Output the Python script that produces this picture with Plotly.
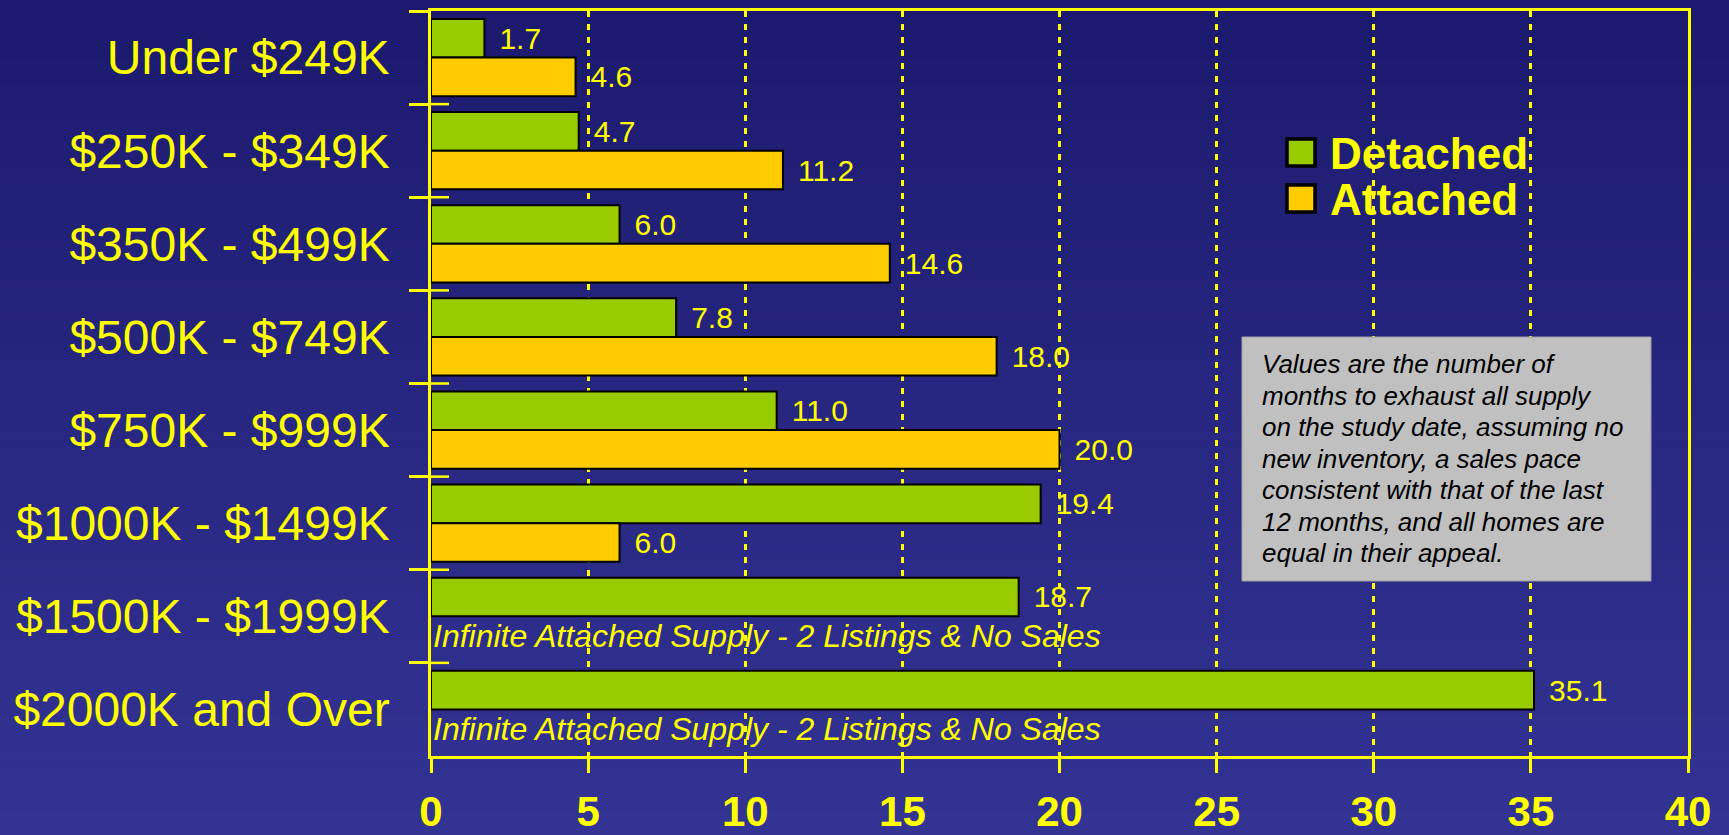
import plotly.graph_objects as go

# ---------------- data ----------------
categories = ["Under $249K", "$250K - $349K", "$350K - $499K", "$500K - $749K",
              "$750K - $999K", "$1000K - $1499K", "$1500K - $1999K", "$2000K and Over"]
detached = [1.7, 4.7, 6.0, 7.8, 11.0, 19.4, 18.7, 35.1]
attached = [4.6, 11.2, 14.6, 18.0, 20.0, 6.0, None, None]
x_ticks = [0, 5, 10, 15, 20, 25, 30, 35, 40]
series_names = ["Detached", "Attached"]
no_attached_note = "Infinite Attached Supply - 2 Listings & No Sales"
note_lines = ["Values are the number of",
              "months to exhaust all supply",
              "on the study date, assuming no",
              "new inventory, a sales pace",
              "consistent with that of the last",
              "12 months, and all homes are",
              "equal in their appeal."]

# ---------------- style ----------------
W, H = 1729, 835
L, R, T, B = 431, 41, 11, 79
PW, PH = W - L - R, H - T - B
YELLOW = "#FFFF00"
GREEN = "#99CC00"
GOLD = "#FFCC00"
FONT = "Liberation Sans, Arial, sans-serif"
BARGAP = 0.17


def px_x(px):
    return (px - L) / PW


def px_y(py):
    return 1 - (py - T) / PH


fig = go.Figure()
colors = [GREEN, GOLD]
for name, vals, col in zip(series_names, [detached, attached], colors):
    fig.add_trace(go.Bar(
        y=categories, x=vals, orientation="h", name=name,
        marker=dict(color=col, line=dict(color="black", width=2)),
        texttemplate="\u2009\u2009%{x:.1f}", textposition="outside",
        textfont=dict(family=FONT, size=30, color=YELLOW),
        constraintext="none", cliponaxis=False, showlegend=False,
        hoverinfo="x+y",
    ))

shapes = []
# background gradient
N = 70
top_c = (28, 26, 110)
bot_c = (51, 51, 148)
for k in range(N):
    t = k / (N - 1)
    c = tuple(round(top_c[j] + (bot_c[j] - top_c[j]) * t) for j in range(3))
    shapes.append(dict(type="rect", xref="paper", yref="paper", layer="below",
                       x0=px_x(0), x1=px_x(W),
                       y0=px_y(k * H / N), y1=px_y((k + 1) * H / N + 1),
                       fillcolor="rgb(%d,%d,%d)" % c, line=dict(width=0)))
# inner half of category boundary ticks
for i in range(1, len(categories)):
    shapes.append(dict(type="line", xref="paper", yref="y",
                       x0=0, x1=18 / PW, y0=i - 0.5, y1=i - 0.5,
                       line=dict(color=YELLOW, width=2.5)))
# legend squares
leg_y = [153, 199]
for col, yc in zip(colors, leg_y):
    shapes.append(dict(type="rect", xref="paper", yref="paper",
                       x0=px_x(1287), x1=px_x(1315), y0=px_y(yc - 14), y1=px_y(yc + 13),
                       fillcolor=col, line=dict(color="black", width=3.5)))
# note box
shapes.append(dict(type="rect", xref="paper", yref="paper",
                   x0=px_x(1242), x1=px_x(1651), y0=px_y(337), y1=px_y(581),
                   fillcolor="#C0C0C0", line=dict(color="#A0A0A0", width=1)))

annotations = []
for name, yc in zip(series_names, leg_y):
    annotations.append(dict(xref="paper", yref="paper", x=px_x(1328), y=px_y(yc),
                            xanchor="left", yanchor="middle", showarrow=False,
                            text=name,
                            font=dict(family=FONT, size=44, color=YELLOW, weight="bold")))
for j, line in enumerate(note_lines):
    annotations.append(dict(xref="paper", yref="paper", x=px_x(1260), y=px_y(364 + 31.5 * j),
                            xanchor="left", yanchor="middle", showarrow=False,
                            text=line,
                            font=dict(family=FONT, size=26, color="black", style="italic")))
for i, v in enumerate(attached):
    if v is None:
        annotations.append(dict(xref="x", yref="y", x=0, y=i + (1 - BARGAP) / 4,
                                xanchor="left", yanchor="middle", showarrow=False,
                                text=no_attached_note,
                                font=dict(family=FONT, size=32, color=YELLOW, style="italic")))

fig.update_layout(
    width=W, height=H,
    margin=dict(l=L, r=R, t=T, b=B, autoexpand=False),
    paper_bgcolor="rgb(38,38,128)", plot_bgcolor="rgba(0,0,0,0)",
    barmode="group", bargap=BARGAP, bargroupgap=0,
    showlegend=False,
    shapes=shapes, annotations=annotations,
    xaxis=dict(range=[0, 40], tickvals=x_ticks, showgrid=True, gridcolor=YELLOW,
               griddash="6px,7px", gridwidth=2.5, zeroline=False,
               showline=True, linecolor=YELLOW, linewidth=2.5, mirror=True,
               ticks="outside", ticklen=14, tickwidth=2.5, tickcolor=YELLOW,
               tickfont=dict(family=FONT, size=42, color=YELLOW, weight="bold"),
               ticklabelstandoff=3, automargin=False),
    yaxis=dict(categoryorder="array", categoryarray=categories, autorange="reversed",
               showgrid=False, zeroline=False,
               showline=True, linecolor=YELLOW, linewidth=2.5, mirror=True,
               ticks="outside", tickson="boundaries", ticklen=19, tickwidth=2.5,
               tickcolor=YELLOW,
               tickfont=dict(family=FONT, size=48, color=YELLOW),
               ticklabelstandoff=29, automargin=False),
)

fig.write_html(
    "out.html",
    config={"displayModeBar": False},
    post_script="document.body.style.margin='0';"
                "document.documentElement.style.overflow='hidden';"
                "document.body.style.overflow='hidden';",
)
